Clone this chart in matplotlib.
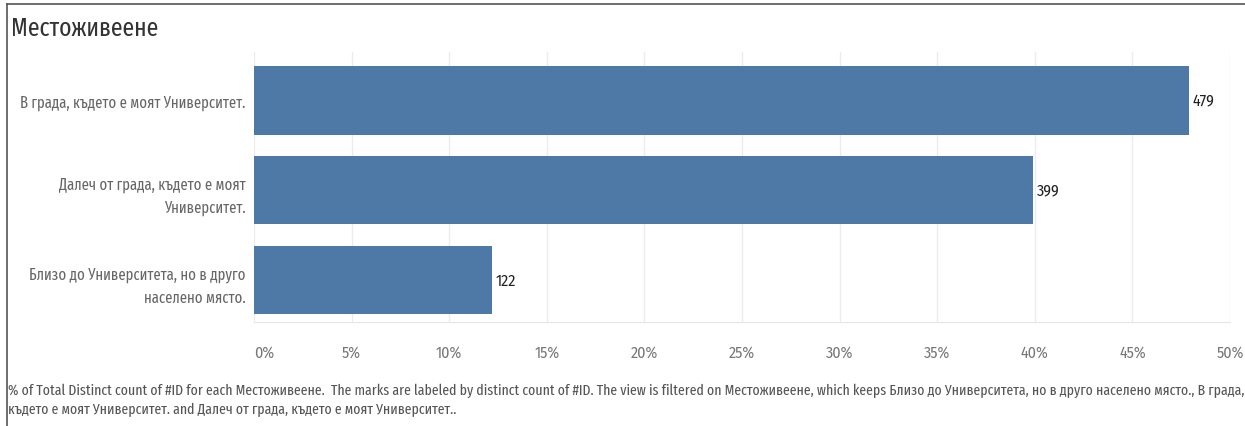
import matplotlib.pyplot as plt
from matplotlib.ticker import FuncFormatter

# Местоживеене - distinct count of #ID per category
categories = [
    "В града, където е моят Университет.",
    "Далеч от града, където е моят\nУниверситет.",
    "Близо до Университета, но в друго\nнаселено място.",
]
counts = [479, 399, 122]
x_ticks = [0, 5, 10, 15, 20, 25, 30, 35, 40, 45, 50]

total = sum(counts)
shares = [c / total * 100 for c in counts]

COND = ["Fira Sans Condensed", "DejaVu Sans"]
XCOND = ["Fira Sans Extra Condensed", "Fira Sans Condensed", "DejaVu Sans"]
plt.rcParams["font.family"] = COND

fig = plt.figure(figsize=(12.45, 4.27), dpi=100)
W, H = 1245, 427

# pane in pixel coords: left 254, right 1230, top 53, bottom 323
ax = fig.add_axes([254 / W, 1 - 323 / H, (1230 - 254) / W, (323 - 53) / H])

y = list(range(len(categories)))
ax.barh(y, shares, height=0.76, color="#4e79a7")
ax.set_ylim(2.47, -0.54)
ax.set_xlim(0, 50)

for yi, v, c in zip(y, shares, counts):
    ax.text(v + 0.2, yi, str(c), va="center", ha="left", fontsize=11.5, color="#222222")

ax.set_xticks(x_ticks)
ax.xaxis.set_major_formatter(FuncFormatter(lambda v, p: f"{v:.0f}%"))
ax.tick_params(axis="x", length=0, pad=16, labelsize=11.5, labelcolor="#777777")
ax.get_xticklabels()[0].set_horizontalalignment("left")
ax.set_yticks(y)
ax.set_yticklabels(categories, fontsize=11.5, color="#666666", linespacing=1.6, family=XCOND)
ax.tick_params(axis="y", length=0, pad=6)

ax.grid(axis="x", color="#ececec", linewidth=1)
ax.set_axisbelow(True)
for side in ["top", "right", "left"]:
    ax.spines[side].set_visible(False)
ax.spines["bottom"].set_color("#e6e6e6")

# title and outer frame
fig.text(11 / W, 1 - 29 / H, "Местоживеене", fontsize=18.5, color="#333333",
         va="center", ha="left", family=XCOND)
fig.add_artist(plt.Line2D([7 / W, 1], [1 - 5 / H, 1 - 5 / H], color="#555555", linewidth=1.2))
fig.add_artist(plt.Line2D([7 / W, 7 / W], [0, 1 - 5 / H], color="#555555", linewidth=1.2))

footer = ("% of Total Distinct count of #ID for each Местоживеене.  The marks are labeled by distinct count of #ID. "
          "The view is filtered on Местоживеене, which keeps Близо до Университета, но в друго населено място., В града,\n"
          "където е моят Университет. and Далеч от града, където е моят Университет..")
fig.text(8 / W, 1 - 400 / H, footer, fontsize=10.8, color="#555555", va="center", ha="left",
         linespacing=1.45, family=XCOND)

fig.savefig("out.png", dpi=100)
